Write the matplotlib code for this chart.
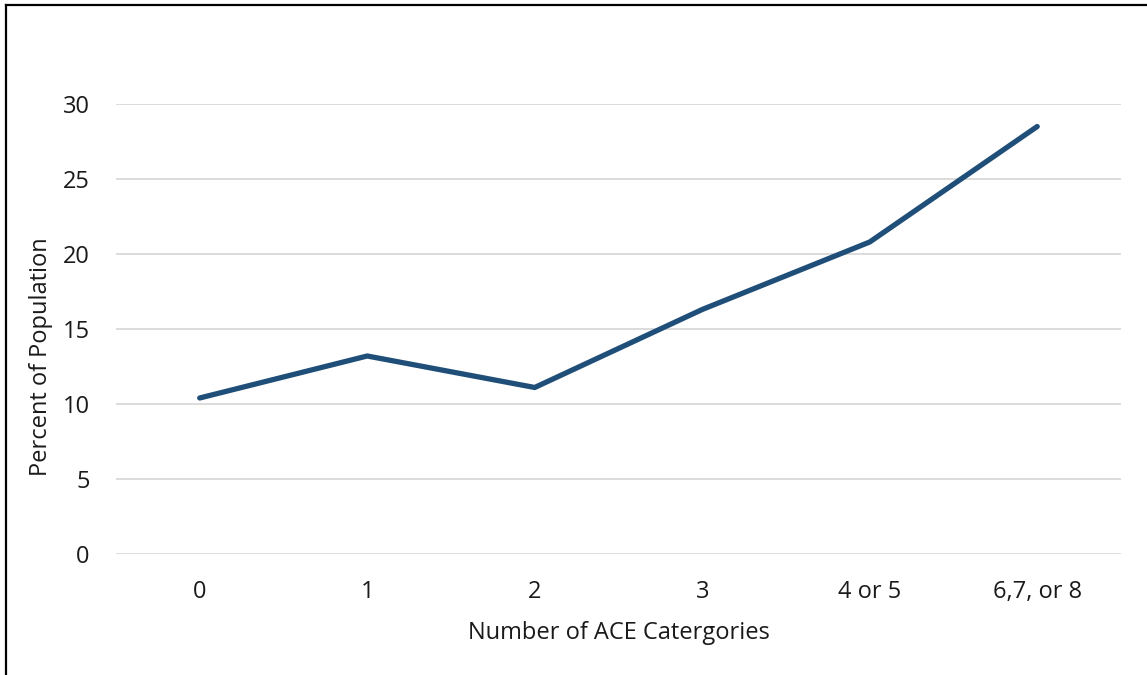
import matplotlib.pyplot as plt
from matplotlib.lines import Line2D

plt.rcParams['font.family'] = ['Open Sans', 'DejaVu Sans']

# ACE category counts and share of population (%)
categories = ['0', '1', '2', '3', '4 or 5', '6,7, or 8']
percent = [10.4, 13.2, 11.1, 16.3, 20.8, 28.5]
y_ticks = [0, 5, 10, 15, 20, 25, 30]

fig = plt.figure(figsize=(11.47, 6.75), dpi=100)
ax = fig.add_axes([0.1011, 0.1793, 0.8762, 0.6666])

x = list(range(len(categories)))
ax.plot(x, percent, color='#1f4e79', linewidth=3.8, solid_capstyle='round',
        solid_joinstyle='round', clip_on=False, zorder=3)

ax.set_xlim(-0.5, len(categories) - 0.5)
ax.set_ylim(0, 30)
ax.set_yticks(y_ticks)
ax.set_xticks(x)
ax.set_xticklabels(categories)
ax.tick_params(axis='both', length=0, labelsize=17, colors='#1a1a1a')
ax.tick_params(axis='x', pad=19)
ax.tick_params(axis='y', pad=19)

ax.grid(axis='y', color='#d9d9d9', linewidth=1.3)
ax.set_axisbelow(True)
for s in ax.spines.values():
    s.set_visible(False)

ax.set_xlabel('Number of ACE Catergories', fontsize=17, color='#1a1a1a', labelpad=12)
ax.set_ylabel('Percent of Population', fontsize=17, color='#1a1a1a')
ax.yaxis.set_label_coords(-0.0625, 0.438)

# frame lines on left and top of the picture
fig.add_artist(Line2D([6 / 1147, 6 / 1147], [0, 1 - 5 / 675], transform=fig.transFigure,
                      color='black', linewidth=1.6))
fig.add_artist(Line2D([6 / 1147, 1], [1 - 5 / 675, 1 - 5 / 675], transform=fig.transFigure,
                      color='black', linewidth=1.6))

fig.savefig('out.png', dpi=100)
